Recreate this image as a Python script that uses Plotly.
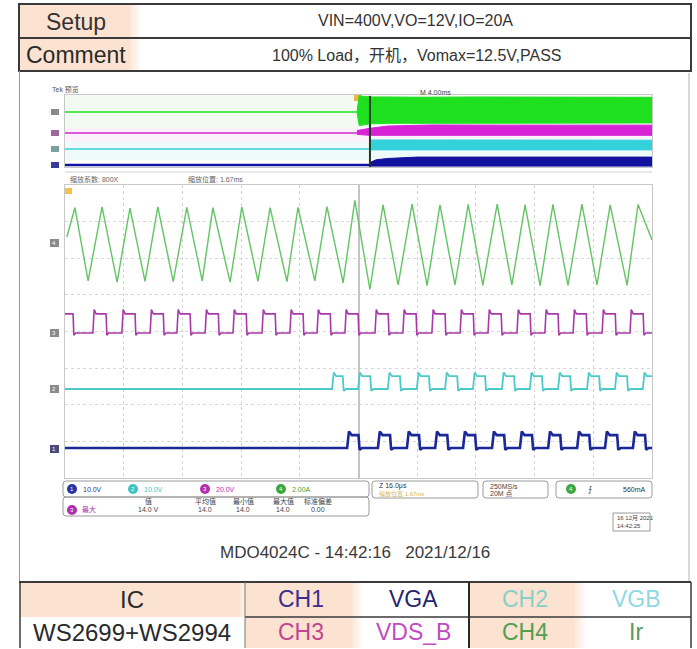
import plotly.graph_objects as go

W, H = 697, 649
FONT = "Arial, 'Liberation Sans', 'Noto Sans CJK SC', sans-serif"


def X(p):
    return p / W


def Y(p):
    return 1 - p / H


# ---------------- table text ----------------
setup_label = "Setup"
setup_value = "VIN=400V,VO=12V,IO=20A"
comment_label = "Comment"
comment_value = "100% Load，开机，Vomax=12.5V,PASS"
scope_caption = "MDO4024C - 14:42:16   2021/12/16"
ic_header = "IC"
ic_value = "WS2699+WS2994"
row1_channels = ["CH1", "VGA", "CH2", "VGB"]
row2_channels = ["CH3", "VDS_B", "CH4", "Ir"]

# ---------------- main (zoomed) window: time in µs, vertical in divisions ----------------
ch4_start = (-79.5, 2.58)
ch4_end = (80.0, 2.50)
ch4_peak_t = [-77.3, -69.9, -62.3, -54.7, -46.8, -39.7, -31.8, -24.1, -16.5, -8.6, -1.0,
              6.7, 14.6, 22.2, 29.9, 37.8, 45.4, 53.0, 60.9, 68.6, 76.2]
ch4_peak_v = [3.38, 3.40, 3.37, 3.40, 3.39, 3.38, 3.40, 3.38, 3.39, 3.41, 3.58,
              3.46, 3.48, 3.46, 3.47, 3.48, 3.46, 3.47, 3.48, 3.46, 3.47]
ch4_trough_t = [-73.7, -65.8, -58.2, -50.5, -42.6, -35.0, -27.4, -19.5, -11.9, -4.2,
                3.1, 10.8, 18.7, 26.3, 33.9, 41.8, 49.5, 57.1, 65.0, 73.2]
ch4_trough_v = [1.38, 1.35, 1.37, 1.36, 1.38, 1.35, 1.37, 1.36, 1.38, 1.33,
                1.15, 1.27, 1.25, 1.27, 1.26, 1.27, 1.25, 1.26, 1.27, 1.26]

ch3_rise = [-72.4, -64.5, -56.8, -49.5, -41.8, -34.2, -26.3, -18.7, -11.3, -3.7,
            4.5, 12.1, 20.0, 27.7, 35.3, 43.2, 50.8, 58.5, 66.4, 74.0]
ch3_fall = [-77.8, -68.8, -60.9, -53.2, -45.9, -38.2, -30.6, -22.7, -15.1, -7.7, -0.1,
            8.1, 15.7, 23.6, 31.3, 38.9, 46.8, 54.4, 62.1, 70.0, 77.6]
ch3_levels = (-0.04, 0.48)

ch2_rise = [-7.2, -0.1, 8.0, 15.9, 23.6, 31.2, 39.1, 46.7, 54.4, 62.3, 69.9, 77.5]
ch2_fall = [-4.3, 3.2, 11.3, 19.2, 26.9, 34.5, 42.4, 50.0, 57.7, 65.6, 73.2]
ch2_levels = (-1.57, -1.22)

ch1_rise = [-3.1, 5.3, 13.2, 20.9, 28.5, 36.4, 44.0, 51.7, 59.6, 67.2, 74.8]
ch1_fall = [0.0, 8.6, 16.5, 24.2, 31.8, 39.7, 47.3, 55.0, 62.9, 70.5, 78.1]
ch1_levels = (-3.18, -2.83)

# ---------------- overview record: time in ms, vertical 0..8 ----------------
ov_flat = {"CH4": 6.11, "CH3": 3.78, "CH2": 2.00, "CH1": 0.22}
ov_ch4_t = [-0.1, 0.05, 0.3, 0.8, 2.0, 4.0, 8.0, 12.0, 16.0, 20.0]
ov_ch4_hi = [6.15, 7.95, 7.85, 7.78, 7.78, 7.75, 7.78, 7.74, 7.76, 7.74]
ov_ch4_lo = [6.05, 4.6, 4.7, 4.8, 4.85, 4.9, 4.88, 4.9, 4.88, 4.9]
ov_ch3_t = [-0.1, 0.78, 2.0, 5.0, 10.0, 15.0, 20.0]
ov_ch3_hi = [4.05, 4.3, 4.55, 4.67, 4.65, 4.67, 4.65]
ov_ch3_lo = [3.62, 3.52, 3.52, 3.54, 3.52, 3.54, 3.52]
ov_ch2_t = [0.78, 2.0, 6.0, 12.0, 20.0]
ov_ch2_hi = [3.0, 3.0, 2.98, 3.0, 2.98]
ov_ch2_lo = [1.9, 1.88, 1.9, 1.88, 1.9]
ov_ch1_t = [0.78, 1.2, 2.0, 4.0, 10.0, 20.0]
ov_ch1_hi = [0.5, 0.8, 0.95, 1.1, 1.1, 1.1]
ov_ch1_lo = [0.1, 0.1, 0.1, 0.1, 0.1, 0.1]
ov_zoom_pos = 0.78

COL_G, COL_M, COL_C, COL_B = "#62c462", "#a83aa8", "#4ccaca", "#1c2896"
OV_G, OV_M, OV_C, OV_B = "#1fe01f", "#d624d6", "#33d2da", "#1212a0"


def tri_wave(start, end, pt, pv, tt, tv):
    pts = [start] + list(zip(pt, pv)) + list(zip(tt, tv)) + [end]
    pts.sort()
    return [p[0] for p in pts], [p[1] for p in pts]


def pulse_wave(t0, t1, rises, falls, lo, hi, edge, hook):
    ev = sorted([(t, 1) for t in rises] + [(t, 0) for t in falls])
    start_hi = ev[0][1] == 0
    xs, ys = [t0], [hi if start_hi else lo]
    for t, up in ev:
        if up:
            xs += [t, t + edge, t + edge * 2.5]
            ys += [lo, hi + hook, hi]
        else:
            xs += [t, t + edge * 0.6, t + edge * 2]
            ys += [hi, lo - hook * 0.5, lo]
    xs.append(t1)
    ys.append(ys[-1])
    return xs, ys


fig = go.Figure()

# ----- main window traces -----
gx, gy = tri_wave(ch4_start, ch4_end, ch4_peak_t, ch4_peak_v, ch4_trough_t, ch4_trough_v)
fig.add_trace(go.Scatter(x=gx, y=gy, mode="lines", line=dict(color=COL_G, width=1.4), xaxis="x", yaxis="y"))
mx, my = pulse_wave(-80, 80, ch3_rise, ch3_fall, ch3_levels[0], ch3_levels[1], 0.35, 0.12)
fig.add_trace(go.Scatter(x=mx, y=my, mode="lines", line=dict(color=COL_M, width=1.6), xaxis="x", yaxis="y"))
cx, cy = pulse_wave(-80, 80, ch2_rise, ch2_fall, ch2_levels[0], ch2_levels[1], 0.45, 0.1)
fig.add_trace(go.Scatter(x=cx, y=cy, mode="lines", line=dict(color=COL_C, width=1.8), xaxis="x", yaxis="y"))
bx, by = pulse_wave(-80, 80, ch1_rise, ch1_fall, ch1_levels[0], ch1_levels[1], 0.5, 0.1)
fig.add_trace(go.Scatter(x=bx, y=by, mode="lines", line=dict(color=COL_B, width=2.6), xaxis="x", yaxis="y"))


# ----- overview traces -----
def ov_band(name, t, hi, lo, col, start):
    fig.add_trace(go.Scatter(x=[-20, start], y=[ov_flat[name], ov_flat[name]], mode="lines",
                             line=dict(color=col, width=1.6 if name != "CH1" else 2.6),
                             xaxis="x2", yaxis="y2"))
    fig.add_trace(go.Scatter(x=t + t[::-1], y=hi + lo[::-1], mode="lines", fill="toself",
                             fillcolor=col, line=dict(color=col, width=1), xaxis="x2", yaxis="y2"))


ov_band("CH4", ov_ch4_t, ov_ch4_hi, ov_ch4_lo, OV_G, ov_ch4_t[0])
ov_band("CH3", ov_ch3_t, ov_ch3_hi, ov_ch3_lo, OV_M, ov_ch3_t[0])
ov_band("CH2", ov_ch2_t, ov_ch2_hi, ov_ch2_lo, OV_C, ov_ch2_t[0])
ov_band("CH1", ov_ch1_t, ov_ch1_hi, ov_ch1_lo, OV_B, ov_ch1_t[0])
fig.add_trace(go.Scatter(x=[ov_zoom_pos, ov_zoom_pos], y=[0, 7.9], mode="lines",
                         line=dict(color="#1d3a1d", width=2), xaxis="x2", yaxis="y2"))

shapes = []
ann = []


def rect(x0, y0, x1, y1, fill=None, line=None, lw=1, layer="below", op=1):
    shapes.append(dict(type="rect", xref="paper", yref="paper", x0=X(x0), x1=X(x1), y0=Y(y1), y1=Y(y0),
                       fillcolor=fill if fill else "rgba(0,0,0,0)",
                       line=dict(color=line if line else "rgba(0,0,0,0)", width=lw if line else 0),
                       layer=layer, opacity=op))


def hline(x0, x1, y, color, w):
    shapes.append(dict(type="line", xref="paper", yref="paper", x0=X(x0), x1=X(x1), y0=Y(y), y1=Y(y),
                       line=dict(color=color, width=w)))


def vline(x, y0, y1, color, w):
    shapes.append(dict(type="line", xref="paper", yref="paper", x0=X(x), x1=X(x), y0=Y(y0), y1=Y(y1),
                       line=dict(color=color, width=w)))


def rrect(x0, y0, x1, y1, r=3, color="#9a9a9a", fill=None):
    p = (f"M {X(x0 + r)},{Y(y0)} L {X(x1 - r)},{Y(y0)} Q {X(x1)},{Y(y0)} {X(x1)},{Y(y0 + r)} "
         f"L {X(x1)},{Y(y1 - r)} Q {X(x1)},{Y(y1)} {X(x1 - r)},{Y(y1)} L {X(x0 + r)},{Y(y1)} "
         f"Q {X(x0)},{Y(y1)} {X(x0)},{Y(y1 - r)} L {X(x0)},{Y(y0 + r)} Q {X(x0)},{Y(y0)} {X(x0 + r)},{Y(y0)} Z")
    shapes.append(dict(type="path", xref="paper", yref="paper", path=p,
                       line=dict(color=color, width=1), fillcolor=fill if fill else "rgba(0,0,0,0)"))


def text(x, y, s, size, color="#333", anchor="center", bold=False):
    if bold:
        s = "<b>" + s + "</b>"
    ann.append(dict(x=X(x), y=Y(y), xref="paper", yref="paper", text=s, showarrow=False,
                    xanchor=anchor, yanchor="middle", font=dict(size=size, color=color, family=FONT)))


PEACH = "#fce3d1"


def peach(x0, y0, x1, y1):
    rect(x0, y0, x1 - 10, y1, fill=PEACH)
    for i, o in enumerate([0.8, 0.6, 0.4, 0.2]):
        rect(x1 - 10 + i * 2.5, y0, x1 - 7.5 + i * 2.5, y1, fill=PEACH, op=o)


# ----- top table -----
peach(20, 5, 140, 71)
rect(19, 4, 691, 71, line="#3a3a3a", lw=2, layer="above")
hline(19, 691, 38, "#3a3a3a", 2)
text(76, 22, setup_label, 23, "#333")
text(76, 55, comment_label, 23, "#2a2a2a")
text(415, 21, setup_value, 16, "#333")
text(417, 55, comment_value, 16, "#333")

# ----- scope frame -----
vline(19.5, 71, 582, "#9a9a9a", 1)
vline(689, 73, 582, "#b0b0b0", 1)

# overview tints + frame
rect(65, 95, 652, 128, fill="rgba(120,220,120,0.10)")
rect(65, 128, 652, 142, fill="rgba(220,120,220,0.10)")
rect(65, 142, 652, 160, fill="rgba(100,220,220,0.10)")
text(50, 89, "Tek 预览", 7, "#555", anchor="left")
text(418, 92, "M 4.00ms", 7, "#444", anchor="left")
hline(65, 652, 172, "#d0d0d0", 1)
text(68, 179, "缩放系数: 800X", 7, "#666", anchor="left")
text(186, 179, "缩放位置: 1.67ms", 7, "#666", anchor="left")
rect(354, 95, 361, 101, fill="#f2b43c")
rect(64, 188, 72, 194, fill="#f2c24c")

# channel markers
for (yy, lab, col) in [(243, "4", "#8a8a8a"), (333, "3", "#8a8a8a"), (389, "2", "#8a8a8a"), (449, "1", "#4a4a7a")]:
    rect(50, yy - 4, 59, yy + 4, fill=col)
    text(54, yy, lab, 6, "white")
for (yy, col) in [(112, "#8a8a8a"), (133, "#9a6a9a"), (149, "#7aa0a0"), (165, "#3a3a9a")]:
    rect(51, yy - 3, 59, yy + 3, fill=col)

# ----- info boxes -----
rrect(63, 481, 369, 497)
rrect(63, 497, 369, 516)
for (cxp, lab, col, val) in [(72, "1", "#2a35a5", "10.0V"), (133, "2", "#3cc4c4", "10.0V"),
                             (205, "3", "#b030b0", "20.0V"), (281, "4", "#3aa83a", "2.00A")]:
    shapes.append(dict(type="circle", xref="paper", yref="paper", x0=X(cxp - 5), x1=X(cxp + 5),
                       y0=Y(494), y1=Y(484), fillcolor=col, line=dict(width=0)))
    text(cxp, 489, lab, 6, "white")
    text(cxp + 9, 489, val, 7, col, anchor="left")
for (xx, s) in [(148, "值"), (205, "平均值"), (243, "最小值"), (283, "最大值"), (318, "标准偏差")]:
    text(xx, 501, s, 7, "#444")
shapes.append(dict(type="circle", xref="paper", yref="paper", x0=X(67), x1=X(77),
                   y0=Y(515), y1=Y(505), fillcolor="#b030b0", line=dict(width=0)))
text(72, 510, "3", 6, "white")
text(80, 510, "最大", 7, "#b030b0", anchor="left")
for (xx, s) in [(148, "14.0 V"), (205, "14.0"), (243, "14.0"), (283, "14.0"), (318, "0.00")]:
    text(xx, 510, s, 7, "#444")

rrect(372, 481, 478, 498)
text(377, 486, "Z 16.0μs", 7, "#333", anchor="left")
text(377, 494, "缩放位置 1.67ms", 6, "#d8b84a", anchor="left")
rrect(483, 481, 548, 498)
text(488, 486, "250MS/s", 7, "#444", anchor="left")
text(488, 494, "20M 点", 7, "#444", anchor="left")
rrect(556, 481, 652, 498)
shapes.append(dict(type="circle", xref="paper", yref="paper", x0=X(566), x1=X(576),
                   y0=Y(494), y1=Y(484), fillcolor="#3aa83a", line=dict(width=0)))
text(571, 489, "4", 6, "white")
text(586, 489, "⨍", 8, "#333", anchor="left")
text(648, 489, "560mA", 7, "#333", anchor="right")
rect(613, 513, 650, 531, line="#9a9a9a")
text(615, 518, "16 12月 2021", 6, "#444", anchor="left")
text(615, 526, "14:42:25", 6, "#444", anchor="left")

text(355, 552, scope_caption, 17, "#3a3a3a")

# ----- bottom table -----
peach(20, 582, 250, 617)
peach(245, 582, 362, 648)
peach(469, 582, 585, 648)
hline(19, 691, 582, "#3a3a3a", 2)
hline(245, 691, 617, "#3a3a3a", 1.5)
vline(20, 582, 648, "#3a3a3a", 1.5)
vline(691, 582, 648, "#3a3a3a", 1.5)
vline(245, 582, 648, "#777", 1)
vline(469, 582, 648, "#2a2a2a", 2)
text(132, 599, ic_header, 24, "#2a2a2a")
text(132, 632, ic_value, 24, "#2a2a2a")
row1_colors = ["#3b2e8c", "#25256e", "#86d0c8", "#8ed8e6"]
row2_colors = ["#c2448e", "#c04cc0", "#4f9f4f", "#5a9a5a"]
col_centers = [301, 413, 525, 636]
for i in range(4):
    text(col_centers[i], 599, row1_channels[i], 23, row1_colors[i])
    text(col_centers[i], 632, row2_channels[i], 23, row2_colors[i])

fig.update_layout(
    width=W, height=H, margin=dict(l=0, r=0, t=0, b=0),
    paper_bgcolor="white", plot_bgcolor="white", showlegend=False,
    shapes=shapes, annotations=ann,
    xaxis=dict(domain=[X(65), X(652)], range=[-80, 80], tick0=-80, dtick=16, showgrid=True,
               gridcolor="#d2d2d2", griddash="dot", showticklabels=False, ticks="", zeroline=True,
               zerolinecolor="#c4c4c4", showline=True, mirror=True, linecolor="#c8c8c8", fixedrange=True),
    yaxis=dict(domain=[Y(478), Y(185)], range=[-4, 4], dtick=1, showgrid=True,
               gridcolor="#d8d8d8", griddash="dot", showticklabels=False, ticks="", zeroline=False,
               showline=True, mirror=True, linecolor="#c8c8c8", fixedrange=True),
    xaxis2=dict(domain=[X(65), X(652)], range=[-20, 20], showgrid=False, showticklabels=False,
                ticks="", zeroline=False, showline=True, mirror=True, linecolor="#c8c8c8",
                anchor="y2", fixedrange=True),
    yaxis2=dict(domain=[Y(167), Y(95)], range=[0, 8], showgrid=False, showticklabels=False,
                ticks="", zeroline=False, showline=True, mirror=True, linecolor="#c8c8c8",
                anchor="x2", fixedrange=True),
)

fig.write_html("out.html", config={"displayModeBar": False},
               post_script="document.body.style.margin='0px';document.body.style.overflow='hidden';")
